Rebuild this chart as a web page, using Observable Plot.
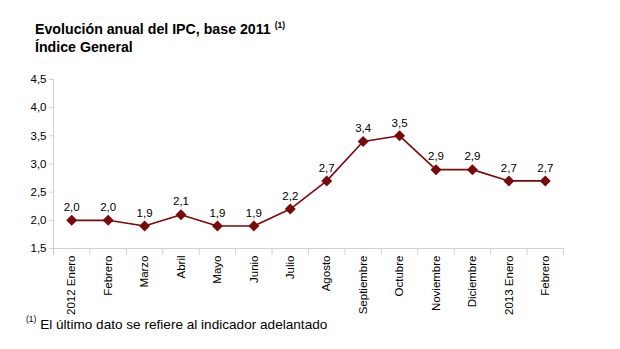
<!DOCTYPE html>
<html>
<head>
<meta charset="utf-8">
<script src="https://cdn.jsdelivr.net/npm/d3@7"></script>
<script src="https://cdn.jsdelivr.net/npm/@observablehq/plot@0.6"></script>
<style>
  body { margin: 0; background: #fff; font-family: "Liberation Sans", Arial, sans-serif; }
  #wrap { position: relative; width: 620px; height: 349px; overflow: hidden; }
  #title { position: absolute; left: 35px; top: 20px; font-weight: bold; font-size: 14.2px; line-height: 18px; color: #000; }
  #title sup, #note sup { font-size: 8.5px; vertical-align: top; position: relative; top: -4px; font-weight: bold; }
  #note { position: absolute; left: 26px; top: 317px; font-size: 13.6px; color: #000; }
  #note sup { font-weight: normal; top: -3px; }
  #chart { position: absolute; left: 0; top: 0; }
</style>
</head>
<body>
<div id="wrap">
  <div id="chart"></div>
  <div id="title">Evolución anual del IPC, base 2011 <sup>(1)</sup><br>Índice General</div>
  <div id="note"><sup>(1)</sup> El último dato se refiere al indicador adelantado</div>
</div>
<script>
const months = ["2012 Enero", "Febrero", "Marzo", "Abril", "Mayo", "Junio", "Julio", "Agosto",
  "Septiembre", "Octubre", "Noviembre", "Diciembre", "2013 Enero", "Febrero"];
const values = [2.0, 2.0, 1.9, 2.1, 1.9, 1.9, 2.2, 2.7, 3.4, 3.5, 2.9, 2.9, 2.7, 2.7];
const yTicks = [1.5, 2.0, 2.5, 3.0, 3.5, 4.0, 4.5];

const data = months.map((m, i) => ({i, m, v: values[i]}));
const boundaries = d3.range(months.length + 1).map(i => i - 0.5);
const fmt = d => d.toFixed(1).replace(".", ",");
const grey = "#d0d0d0";
const red = "#7a0a0a";

const chart = Plot.plot({
  width: 620,
  height: 349,
  marginLeft: 53,
  marginRight: 57,
  marginTop: 79,
  marginBottom: 101,
  style: {fontFamily: "'Liberation Sans', Arial, sans-serif", fontSize: "11.5px", color: "#000", background: "transparent"},
  x: {type: "linear", domain: [-0.5, months.length - 0.5]},
  y: {domain: [1.5, 4.5]},
  marks: [
    Plot.axisY({ticks: yTicks, tickFormat: fmt, tickSize: 4, tickPadding: 3, stroke: grey, fill: "#000", label: null}),
    Plot.axisX({ticks: boundaries, tickFormat: () => "", tickSize: 7, stroke: grey, label: null}),
    Plot.axisX({ticks: data.map(d => d.i), tickFormat: i => months[i], tickSize: 0, tickPadding: 7, tickRotate: -90, fill: "#000", label: null}),
    Plot.ruleX([-0.5], {stroke: grey}),
    Plot.ruleY([1.5], {stroke: grey}),
    Plot.line(data, {x: "i", y: "v", stroke: red, strokeWidth: 1.6}),
    Plot.dot(data, {x: "i", y: "v", symbol: "diamond2", r: 4, fill: red, stroke: red}),
    Plot.text(data, {x: "i", y: "v", text: d => fmt(d.v), dy: -13, fontSize: 11.5, fill: "#000"})
  ]
});
document.getElementById("chart").appendChild(chart);
</script>
</body>
</html>
